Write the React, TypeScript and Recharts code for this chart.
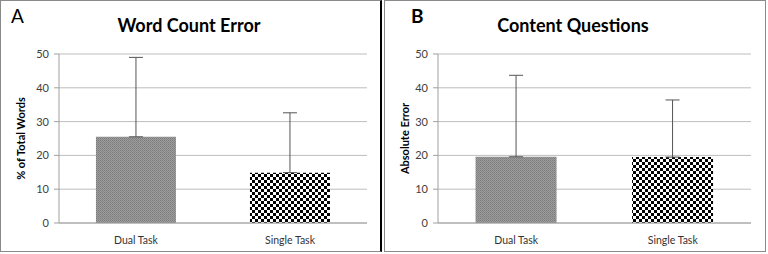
import { BarChart, Bar, Cell, XAxis, YAxis, CartesianGrid, ErrorBar, Label } from "recharts";

const categories = ["Dual Task", "Single Task"];
const yTicks = [0, 10, 20, 30, 40, 50];

const wordCountMeans = [25.5, 14.9];
const wordCountErrors = [23.5, 17.7];

const contentMeans = [19.6, 19.5];
const contentErrors = [24.1, 16.9];

const font = "Lato, 'Open Sans', sans-serif";

function buildRows(means: number[], errors: number[]) {
    return categories.map((name, i) => ({ name, value: means[i], err: [0, errors[i]] }));
}

function Panel({ id, letter, letterBold, title, yLabel, means, errors, axisWidth, right }: any) {
    const data = buildRows(means, errors);
    return (
        <div style={{ position: "relative", width: 382, height: 254 }}>
            <div
                style={{
                    position: "absolute",
                    left: id === "a" ? 11 : 27,
                    top: 4,
                    fontSize: 19,
                    fontWeight: letterBold ? 700 : 400,
                    fontFamily: font,
                    color: "#000",
                }}
            >
                {letter}
            </div>
            <div
                style={{
                    position: "absolute",
                    left: 0,
                    width: 378,
                    top: 14,
                    textAlign: "center",
                    fontSize: 18,
                    fontWeight: 700,
                    fontFamily: font,
                    color: "#000",
                }}
            >
                {title}
            </div>
            <BarChart
                width={382}
                height={254}
                data={data}
                margin={{ top: 54, right, bottom: 1, left: 0 }}
                barCategoryGap="24%"
            >
                <defs>
                    <pattern id={`hatch-${id}`} width="2" height="2" patternUnits="userSpaceOnUse">
                        <rect width="2" height="2" fill="#9c9c9c" />
                        <rect width="1" height="1" fill="#7c7c7c" />
                        <rect x="1" y="1" width="1" height="1" fill="#888" />
                    </pattern>
                    <pattern id={`check-${id}`} width="6" height="6" patternUnits="userSpaceOnUse">
                        <rect width="6" height="6" fill="#fff" />
                        <rect width="3" height="3" fill="#000" />
                        <rect x="3" y="3" width="3" height="3" fill="#000" />
                    </pattern>
                </defs>
                <CartesianGrid vertical={false} stroke="#bdbdbd" />
                <XAxis
                    dataKey="name"
                    height={30}
                    tickLine={false}
                    axisLine={{ stroke: "#a0a0a0" }}
                    tick={{ fontSize: 10.5, fill: "#333", fontFamily: font }}
                    tickMargin={8}
                />
                <YAxis
                    width={axisWidth}
                    domain={[0, 50]}
                    ticks={yTicks}
                    tickSize={5}
                    tickMargin={5}
                    tickLine={{ stroke: "#a0a0a0" }}
                    axisLine={{ stroke: "#a0a0a0" }}
                    tick={{ fontSize: 11, fill: "#404040", fontFamily: font }}
                >
                    <Label
                        value={yLabel}
                        angle={-90}
                        position="center"
                        dx={id === "a" ? -8 : -6}
                        style={{ fontSize: 11, fontWeight: 700, fill: "#000", fontFamily: font }}
                    />
                </YAxis>
                <Bar dataKey="value" isAnimationActive={false}>
                    <Cell fill={`url(#hatch-${id})`} />
                    <Cell fill={`url(#check-${id})`} />
                    <ErrorBar dataKey="err" direction="y" width={7} stroke="#555" strokeWidth={1} />
                </Bar>
            </BarChart>
        </div>
    );
}

export default function App() {
    return (
        <div style={{ position: "fixed", left: 0, top: 0, width: 768, height: 254, background: "#fff" }}>
            <div
                style={{
                    position: "absolute",
                    left: 0,
                    top: 0,
                    width: 382,
                    height: 252,
                    borderTop: "1px solid #8a8a8a",
                    borderLeft: "1px solid #8a8a8a",
                    borderBottom: "1px solid #8a8a8a",
                    borderRight: "2px solid #000",
                    boxSizing: "border-box",
                }}
            />
            <div
                style={{
                    position: "absolute",
                    left: 384,
                    top: 0,
                    width: 382,
                    height: 252,
                    border: "1px solid #8a8a8a",
                    boxSizing: "border-box",
                }}
            />
            <div style={{ position: "absolute", left: 0, top: 0 }}>
                <Panel
                    id="a"
                    letter="A"
                    letterBold={false}
                    title="Word Count Error"
                    yLabel="% of Total Words"
                    means={wordCountMeans}
                    errors={wordCountErrors}
                    axisWidth={59}
                    right={15}
                />
            </div>
            <div style={{ position: "absolute", left: 384, top: 0 }}>
                <Panel
                    id="b"
                    letter="B"
                    letterBold={true}
                    title="Content Questions"
                    yLabel="Absolute Error"
                    means={contentMeans}
                    errors={contentErrors}
                    axisWidth={54}
                    right={15}
                />
            </div>
        </div>
    );
}
